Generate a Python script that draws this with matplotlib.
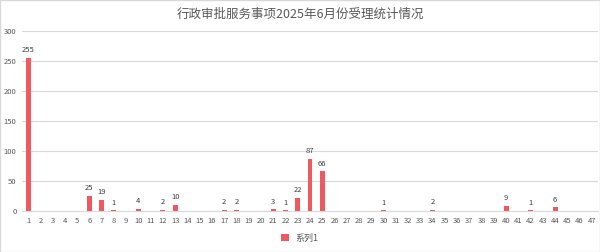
import numpy as np
import matplotlib.pyplot as plt

plt.rcParams['font.family'] = ['Noto Sans CJK SC', 'DejaVu Sans']

# categories 1..47 and counts
days = list(range(1, 48))
counts = {1: 255, 6: 25, 7: 19, 8: 1, 10: 4, 12: 2, 13: 10, 17: 2, 18: 2,
          21: 3, 22: 1, 23: 22, 24: 87, 25: 66, 30: 1, 34: 2, 40: 9,
          42: 1, 44: 6}
values = [counts.get(d, 0) for d in days]
title = '行政审批服务事项2025年6月份受理统计情况'
series_name = '系列1'

bar_color = '#ee5a5f'
text_color = '#595959'

fig = plt.figure(figsize=(6, 2.52), dpi=100)
ax = fig.add_axes([22/600, 41/252, 576/600, 180/252])

x = np.arange(len(days))
bars = ax.bar(x, values, width=0.4, color=bar_color, label=series_name, zorder=3)

for xi, v in zip(x, values):
    if v > 0:
        ax.text(xi, v + 6, str(v), ha='center', va='bottom', fontsize=5.5, color='#404040')

ax.set_xlim(-0.5, len(days) - 0.5)
ax.set_ylim(0, 300)
ax.set_yticks(range(0, 301, 50))
ax.set_xticks(x)
ax.set_xticklabels([str(d) for d in days])
ax.tick_params(axis='both', length=0, labelsize=5.5, colors=text_color, pad=4)
ax.grid(axis='y', color='#d9d9d9', linewidth=0.8, zorder=0)
for s in ['top', 'right', 'left']:
    ax.spines[s].set_visible(False)
ax.spines['bottom'].set_color('#d9d9d9')

fig.text(0.5, 0.945, title, ha='center', va='center', fontsize=9, color=text_color)
fig.legend(handles=[bars], labels=[series_name], loc='center', bbox_to_anchor=(0.5, 0.055),
           frameon=False, fontsize=6.5, handlelength=0.8, handleheight=0.8,
           labelcolor=text_color)

fig.patches.append(plt.Rectangle((0, 0), 1, 1, transform=fig.transFigure,
                                 fill=False, edgecolor='#d9d9d9', linewidth=1))

fig.savefig('out.png', dpi=100)
